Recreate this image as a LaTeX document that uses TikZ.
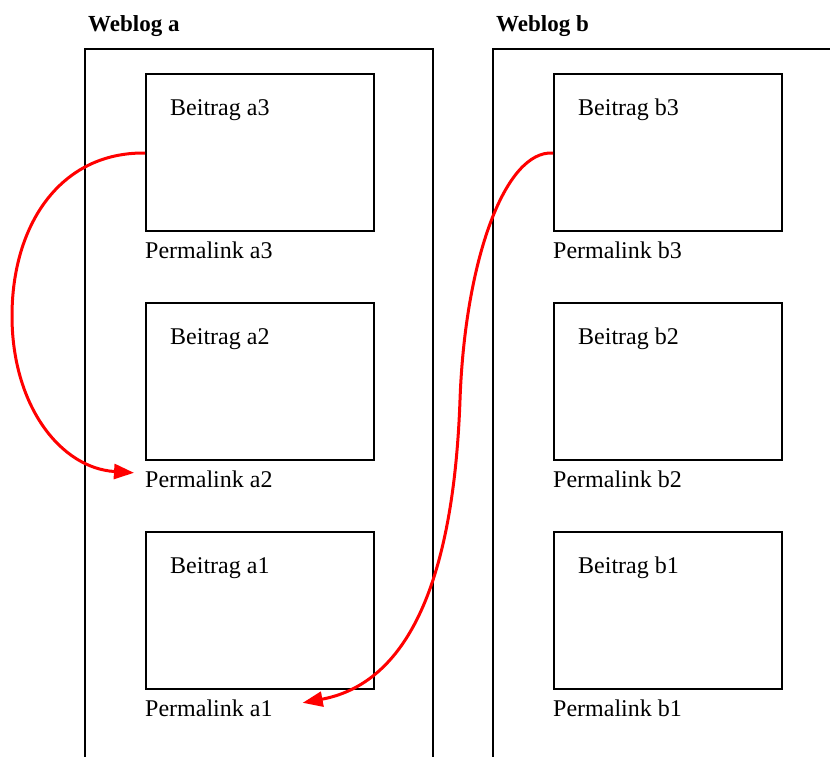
\documentclass[tikz,border=0pt]{standalone}
\usepackage{fontspec}
\setmainfont{Liberation Serif}
\usetikzlibrary{arrows.meta,calc}
\tikzset{
  post/.style={draw=black, line width=1.5pt, minimum width=228pt, minimum height=157pt, inner sep=0pt, anchor=north west},
  lbl/.style={anchor=base west, inner sep=0pt, font=\fontsize{24}{28}\selectfont},
  ttl/.style={anchor=base west, inner sep=0pt, font=\fontsize{23}{27}\selectfont\bfseries},
  frame/.style={draw=black, line width=1.5pt},
  link/.style={draw=red, line width=3pt, -{Triangle[length=20pt,width=15pt]}}
}
\begin{document}
\begin{tikzpicture}[x=1pt,y=-1pt]
\useasboundingbox (0,0) rectangle (830,756);
\fill[white] (0,0) rectangle (830,756);
% titles
\node[ttl] (ta) at (88,31) {Weblog a};
\node[ttl] (tb) at (496,31) {Weblog b};
% frames
\draw[frame] (85,757) -- (85,49) -- (433,49) -- (433,757);
\draw[frame] (493,757) -- (493,49) -- (831,49);
% posts weblog a
\node[post] (a3) at (145,73) {};
\node[post] (a2) at (145,302) {};
\node[post] (a1) at (145,531) {};
\node[post] (b3) at (553,73) {};
\node[post] (b2) at (553,302) {};
\node[post] (b1) at (553,531) {};
% titles of posts
\node[lbl] (ba3) at (170,115) {Beitrag a3};
\node[lbl] (ba2) at (170,344) {Beitrag a2};
\node[lbl] (ba1) at (170,573) {Beitrag a1};
\node[lbl] (bb3) at (578,115) {Beitrag b3};
\node[lbl] (bb2) at (578,344) {Beitrag b2};
\node[lbl] (bb1) at (578,573) {Beitrag b1};
% permalinks
\node[lbl] (pa3) at (145,258) {Permalink a3};
\node[lbl] (pa2) at (145,487) {Permalink a2};
\node[lbl] (pa1) at (145,716) {Permalink a1};
\node[lbl] (pb3) at (553,258) {Permalink b3};
\node[lbl] (pb2) at (553,487) {Permalink b2};
\node[lbl] (pb1) at (553,716) {Permalink b1};
% links
\coordinate (sa) at (a3.west |- 0,153);
\coordinate (sb) at (b3.west |- 0,153);
\draw[link] (sa) .. controls (60,152) and (12,225) .. (12,316)
  .. controls (12,405) and (60,468) .. ($(pa2.west)+(-11,-6)$);
\draw[link] (sb) .. controls (505,150) and (465,260) .. (460,400)
  .. controls (455,540) and (425,680) .. ($(pa1.east)+(30,-5)$);
\end{tikzpicture}
\end{document}
